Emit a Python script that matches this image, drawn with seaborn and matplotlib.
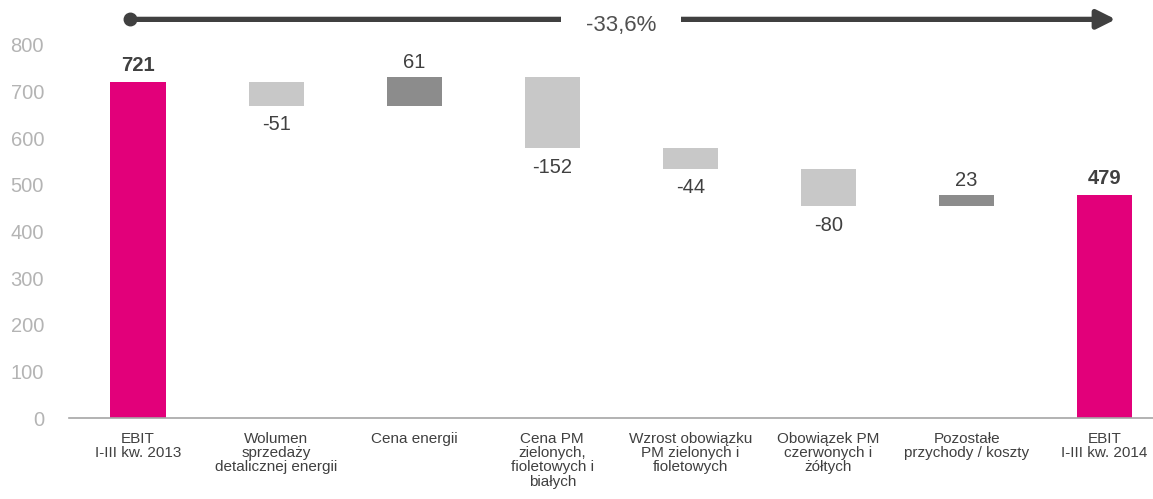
import matplotlib
matplotlib.use("Agg")
import matplotlib.pyplot as plt
import seaborn as sns
import pandas as pd
import numpy as np

categories = ["EBIT\nI-III kw. 2013", "Wolumen\nsprzedaży\ndetalicznej energii", "Cena energii",
              "Cena PM\nzielonych,\nfioletowych i\nbiałych", "Wzrost obowiązku\nPM zielonych i\nfioletowych",
              "Obowiązek PM\nczerwonych i\nżółtych", "Pozostałe\nprzychody / koszty", "EBIT\nI-III kw. 2014"]
start_value = 721
deltas = [-51, 61, -152, -44, -80, 23]
end_value = 479
change_label = "-33,6%"
yticks = [0, 100, 200, 300, 400, 500, 600, 700, 800]

MAGENTA = "#E2007A"
NEG = "#C8C8C8"
POS = "#8C8C8C"
TXT = "#404040"

# waterfall geometry
tops, bottoms, colors, labels, kinds = [], [], [], [], []
tops.append(start_value); bottoms.append(0); colors.append(MAGENTA); labels.append(str(start_value)); kinds.append("total")
run = start_value
for d in deltas:
    new = run + d
    tops.append(max(run, new)); bottoms.append(min(run, new))
    colors.append(POS if d > 0 else NEG); labels.append(str(d)); kinds.append("pos" if d > 0 else "neg")
    run = new
tops.append(end_value); bottoms.append(0); colors.append(MAGENTA); labels.append(str(end_value)); kinds.append("total")

df = pd.DataFrame({"cat": categories, "top": tops, "bottom": bottoms})

sns.set_style("white")
plt.rcParams["font.family"] = ["Liberation Sans", "DejaVu Sans"]

fig = plt.figure(figsize=(11.53, 4.99), dpi=100)
ax = fig.add_axes([69/1153, 81/499, (1153-69)/1153, (418-45)/499])

sns.barplot(data=df, x="cat", y="top", hue="cat", palette=colors, order=categories,
            hue_order=categories, legend=False, width=0.4, linewidth=0, saturation=1, ax=ax)
sns.barplot(data=df, x="cat", y="bottom", hue="cat", palette=["white"] * len(categories), order=categories,
            hue_order=categories, legend=False, width=0.4, linewidth=0, saturation=1, ax=ax)

ax.set_xlim(-0.5, 7.35)
ax.set_ylim(0, 800)
ax.set_yticks(yticks)
ax.set_xlabel("")
ax.set_ylabel("")
for s in ["left", "right", "top"]:
    ax.spines[s].set_visible(False)
ax.spines["bottom"].set_color("#A6A6A6")
ax.spines["bottom"].set_linewidth(1.2)
ax.tick_params(axis="y", length=0, labelsize=14.5, labelcolor="#B4B4B4", pad=18)
ax.tick_params(axis="x", length=0, labelsize=11, labelcolor=TXT, pad=10)
for t in ax.get_xticklabels():
    t.set_linespacing(1.02)
    t.set_va("top")

for i, (t, b, lab, k) in enumerate(zip(tops, bottoms, labels, kinds)):
    if k == "total":
        ax.annotate(lab, (i, t), xytext=(0, 5), textcoords="offset points", ha="center", va="bottom",
                    fontsize=14.5, fontweight="bold", color=TXT)
    elif k == "pos":
        ax.annotate(lab, (i, t), xytext=(0, 4), textcoords="offset points", ha="center", va="bottom",
                    fontsize=14.5, color=TXT)
    else:
        ax.annotate(lab, (i, b), xytext=(0, -7), textcoords="offset points", ha="center", va="top",
                    fontsize=14.5, color=TXT)

# overall change arrow
ya = 855
ax.annotate("", xy=(7.08, ya), xytext=(-0.06, ya),
            arrowprops=dict(arrowstyle="-|>", lw=3.8, color=TXT, mutation_scale=28, shrinkA=0, shrinkB=0),
            annotation_clip=False)
ax.plot([-0.06], [ya], marker="o", markersize=9, color=TXT, clip_on=False)
ax.text(3.5, ya - 14, change_label, ha="center", va="center", fontsize=16, color="#505050",
        bbox=dict(facecolor="white", edgecolor="none", pad=18), clip_on=False)

fig.savefig("out.png", dpi=100)
